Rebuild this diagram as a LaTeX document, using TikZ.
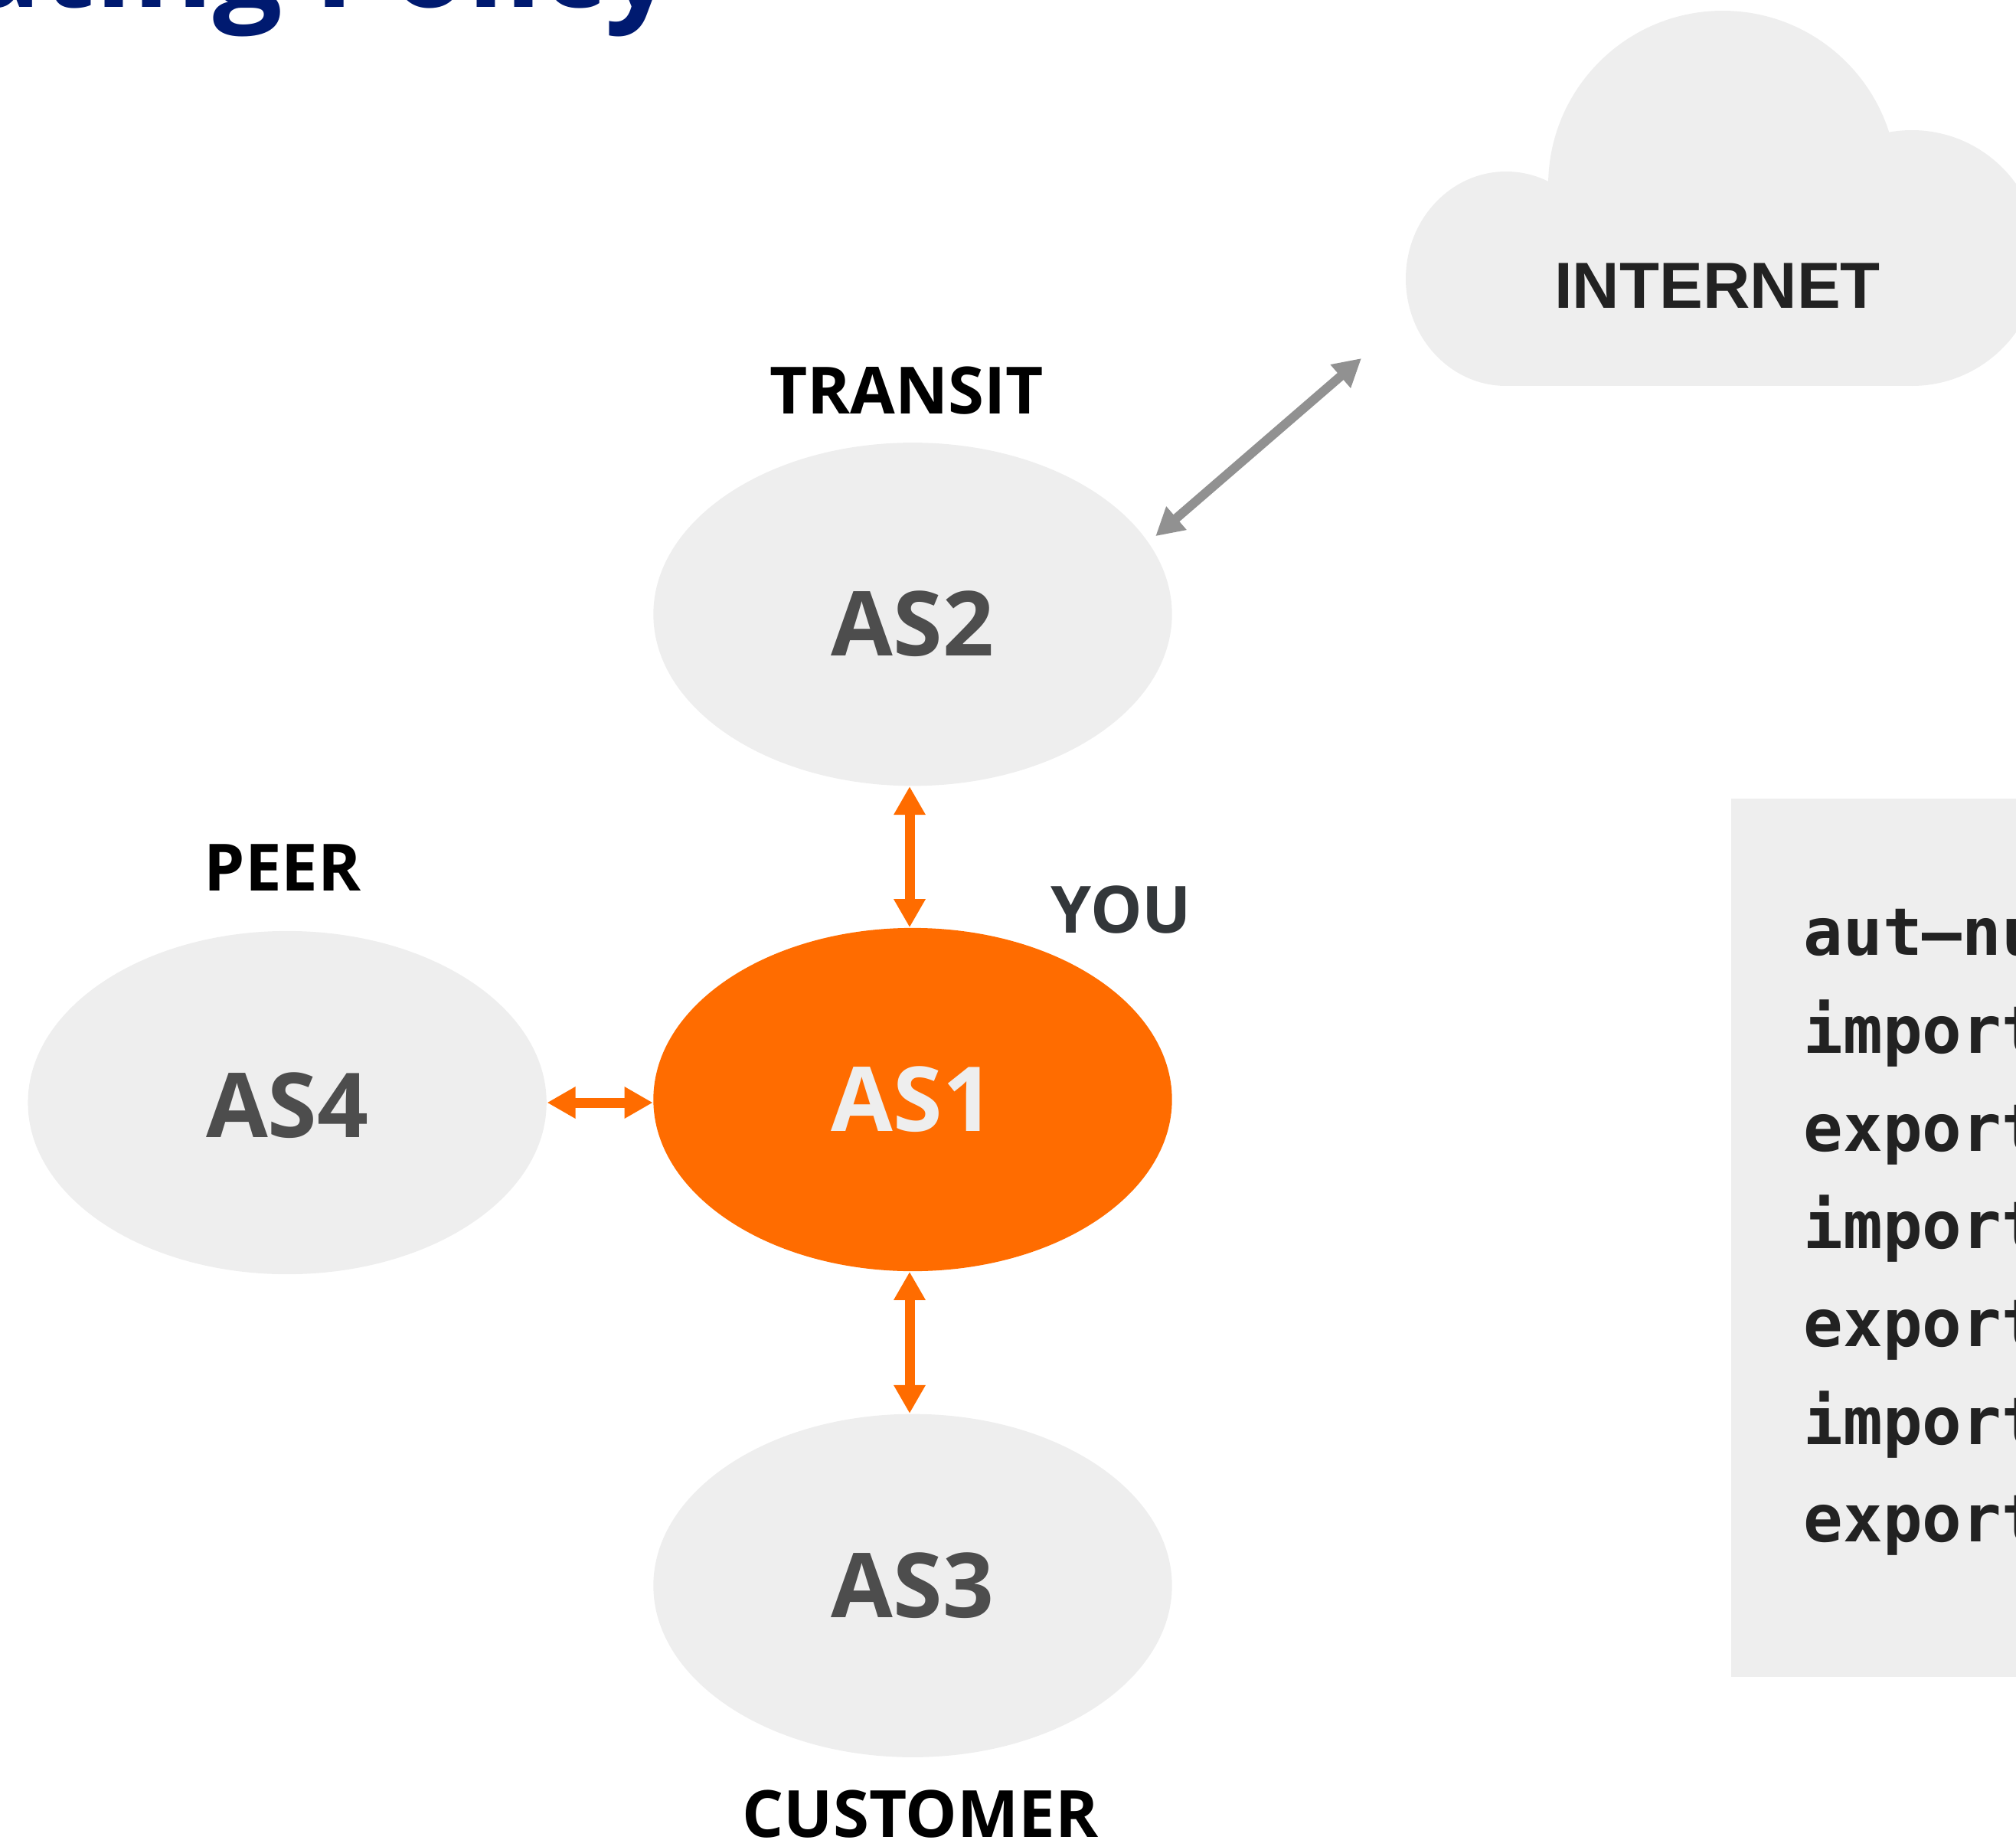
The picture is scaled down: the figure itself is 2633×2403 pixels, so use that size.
\documentclass[tikz,border=0pt]{standalone}
\usepackage{fontspec}
\setmainfont{Open Sans}
\newfontfamily\internetfont{Liberation Sans}
\newfontfamily\codefont{DejaVu Sans Mono}
\usetikzlibrary{arrows.meta,positioning,shapes.geometric}
\definecolor{asgrey}{HTML}{EEEEEE}
\definecolor{asorange}{HTML}{FF6C00}
\definecolor{astext}{HTML}{4D4D4D}
\definecolor{youtext}{HTML}{33373A}
\definecolor{inktext}{HTML}{222222}
\definecolor{arrowgrey}{HTML}{919191}
\definecolor{titleblue}{HTML}{001A70}
\tikzset{
	asnode/.style={ellipse,fill=asgrey,text=astext,inner sep=0pt,minimum width=6.77cm,minimum height=4.48cm,font=\fontsize{33.3}{40}\selectfont\bfseries},
	tag/.style={inner sep=0pt,font=\fontsize{24.2}{29}\selectfont\bfseries},
	bilink/.style={{Triangle[length=0.37cm,width=0.39cm]}-{Triangle[length=0.37cm,width=0.39cm]},line width=0.13cm,asorange},
	uplink/.style={{Triangle[length=0.36cm,width=0.38cm]}-{Triangle[length=0.36cm,width=0.38cm]},line width=0.12cm,arrowgrey},
}
\begin{document}
\begin{tikzpicture}[x=0.01cm,y=-0.01cm]
	\path[use as bounding box,clip] (0,0) rectangle (2633,2403);
	\fill[asgrey] (1967,364) ellipse (131 and 140);
	\fill[asgrey] (2250,242) circle (228);
	\fill[asgrey] (2497,337) circle (167);
	\fill[asgrey] (1967,240) rectangle (2497,504);
	\node[anchor=base east,inner sep=0pt,text=titleblue,font=\fontsize{45.6}{54}\selectfont\bfseries](title) at (883,10){ating Policy};
	\node[inner sep=0pt,text=inktext,font=\internetfont\fontsize{24.2}{30}\selectfont\bfseries](internet) at (2243,373){INTERNET};
	\coordinate(cloud) at (1778,468);
	\node[asnode,fill=asorange,text=asgrey](as1) at (1192,1436){AS1};
	\node[asnode,text height=1.10cm](as2)[above = 1.84cm of as1]{AS2};
	\node[asnode](as3)[below = 1.85cm of as1]{AS3};
	\node[asnode,text height=0.93cm](as4)[left = 1.38cm of as1,yshift=-0.04cm]{AS4};
	\node[tag](transit)[above = 0.35cm of as2,xshift=-0.08cm]{TRANSIT};
	\node[tag](peer)[above = 0.51cm of as4,xshift=-0.06cm]{PEER};
	\node[tag](customer)[below = 0.41cm of as3,xshift=0.10cm]{CUSTOMER};
	\node[tag,text=youtext](you)[above right = -0.09cm and 1.8cm of as1.north]{YOU};
	\node[fill=asgrey,inner sep=0pt,minimum width=5cm,minimum height=11.47cm,anchor=north west](policy) at (2260,1042){};
	\node[inner sep=0pt,anchor=west,align=left,text=inktext,font=\codefont\fontsize{24.4}{36.3}\selectfont\bfseries](code)[right = 0.95cm of policy.west,yshift=0.07cm]{aut–nu\\import\\export\\import\\export\\import\\export};
	\draw[bilink]([xshift=-0.04cm]as2.south) -- ([xshift=-0.04cm]as1.north);
	\draw[bilink]([xshift=-0.04cm]as1.south) -- ([xshift=-0.04cm]as3.north);
	\draw[bilink](as4.east) -- (as4.east -| as1.west);
	\draw[uplink,shorten <=0.12cm](as2.17.8) -- (cloud);
\end{tikzpicture}
\end{document}
